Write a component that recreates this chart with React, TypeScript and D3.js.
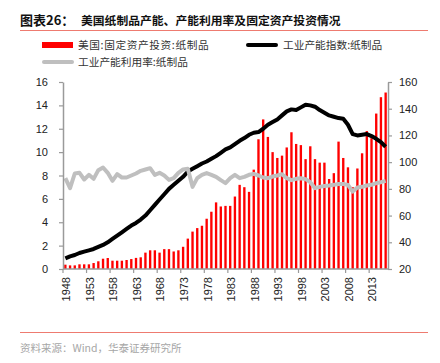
import * as d3 from 'd3'
import { useEffect, useRef } from 'react'

const years = d3.range(1948, 2017)

// 美国:固定资产投资:纸制品 (left axis)
const investment = [
    0.37, 0.31, 0.31, 0.4, 0.4, 0.4, 0.51, 0.66, 0.88, 0.94,
    0.71, 0.71, 0.71, 0.77, 0.85, 0.95, 1.0, 1.4, 1.6, 1.6,
    1.4, 1.7, 1.7, 1.5, 1.6, 1.9, 2.6, 3.2, 3.5, 3.7,
    4.3, 4.9, 5.7, 5.35, 5.4, 5.4, 6.2, 7.2, 7.0, 6.6,
    8.5, 11.1, 12.8, 11.3, 10.0, 9.5, 9.7, 10.4, 11.7, 10.7,
    10.6, 9.4, 10.5, 9.4, 9.1, 9.1, 7.7, 8.2, 10.9, 9.5,
    8.7, 7.0, 8.6, 9.9, 11.8, 11.2, 13.3, 14.7, 15.1
]

// 工业产能指数:纸制品 (right axis)
const capacityIndex = [
    28, 29.5, 30.5, 32, 33, 34, 35, 36.5, 38, 40,
    42.5, 45, 47.5, 50, 52.5, 54.5, 57, 60, 64, 68,
    72, 76, 80, 83, 86, 89, 93, 95, 97, 99,
    100.5, 102.5, 104.5, 107, 109.5, 111, 113.5, 116, 118, 120.5,
    122, 122.5, 125, 128, 130, 132, 135, 138, 139.5, 139,
    141, 143, 142.5, 141.5, 139, 137, 135, 134, 133, 132.5,
    128, 121, 120, 120.5, 121, 119.5, 117.5, 115, 111.5
]

// 工业产能利用率:纸制品 (right axis)
const utilization = [
    88, 80.5, 91.5, 92, 87, 90.5, 87.5, 94, 96, 92,
    86, 91, 88.5, 88.5, 90, 91.5, 93.5, 94.5, 95.5, 90.5,
    92, 90, 86.7, 88, 92, 94.5, 95, 81.5, 88, 90.5,
    91.8, 90.5, 89, 86.5, 84.3, 88, 90.5, 88, 89, 90.5,
    91.2, 90, 88.5, 88, 89.2, 90, 91, 88, 86.5, 87.5,
    88, 87.3, 85, 80.5, 81.5, 82.2, 82.5, 83, 83.7, 83.7,
    83, 78, 81, 81.5, 82.5, 83, 84.3, 85, 86
]

const leftTicks = [0, 2, 4, 6, 8, 10, 12, 14, 16]
const rightTicks = [20, 40, 60, 80, 100, 120, 140, 160]
const yearTicks = [1948, 1953, 1958, 1963, 1968, 1973, 1978, 1983, 1988, 1993, 1998, 2003, 2008, 2013]

const cjk = '"Noto Sans CJK SC", "Noto Sans", sans-serif'
const latin = '"Liberation Sans", Arial, sans-serif'

export default function App() {
    const chart = useRef<SVGSVGElement>(null)

    useEffect(() => {
        const svg = d3.select(chart.current)
        svg.selectAll('*').remove()

        const plot = { left: 63, right: 388, top: 82, bottom: 269 }
        const axisColor = '#9a9a9a'

        const x = d3.scaleBand<number>()
            .domain(years)
            .range([plot.left, plot.right])
            .paddingInner(0.5)
            .paddingOuter(0.25)
        const edge = (yr: number) => (x(yr) as number) - x.step() * 0.25
        const mid = (yr: number) => (x(yr) as number) + x.bandwidth() / 2

        const yL = d3.scaleLinear().domain([0, 16]).range([plot.bottom, plot.top])
        const yR = d3.scaleLinear().domain([20, 160]).range([plot.bottom, plot.top])

        // title
        svg.append('text')
            .attr('x', 20).attr('y', 25)
            .attr('font-family', cjk).attr('font-weight', 'bold').attr('font-size', 13)
            .attr('fill', '#111')
            .text('图表26：')
        svg.append('text')
            .attr('x', 81).attr('y', 25)
            .attr('font-family', cjk).attr('font-weight', 'bold').attr('font-size', 11.8)
            .attr('fill', '#111')
            .text('美国纸制品产能、产能利用率及固定资产投资情况')
        svg.append('line')
            .attr('x1', 20).attr('x2', 428).attr('y1', 30.5).attr('y2', 30.5)
            .attr('stroke', '#ee7b70').attr('stroke-width', 1)

        // legend
        const lg = svg.append('g').attr('font-family', cjk).attr('font-size', 10.7).attr('fill', '#333')
        lg.append('rect').attr('x', 42).attr('y', 42).attr('width', 31).attr('height', 6).attr('fill', '#ff0000')
        lg.append('text').attr('x', 78).attr('y', 45).attr('dy', '0.35em').attr('letter-spacing', 0.6).text('美国:固定资产投资:纸制品')
        lg.append('line').attr('x1', 248).attr('x2', 276).attr('y1', 45).attr('y2', 45)
            .attr('stroke', '#000').attr('stroke-width', 4).attr('stroke-linecap', 'round')
        lg.append('text').attr('x', 283).attr('y', 45).attr('dy', '0.35em').text('工业产能指数:纸制品')
        lg.append('line').attr('x1', 44).attr('x2', 72).attr('y1', 62).attr('y2', 62)
            .attr('stroke', '#bfbfbf').attr('stroke-width', 4).attr('stroke-linecap', 'round')
        lg.append('text').attr('x', 78).attr('y', 62).attr('dy', '0.35em').text('工业产能利用率:纸制品')

        // bars
        svg.append('g')
            .attr('fill', '#ff0000')
            .selectAll('rect')
            .data(years)
            .join('rect')
                .attr('x', d => x(d) as number)
                .attr('y', (d, i) => yL(investment[i]))
                .attr('width', x.bandwidth())
                .attr('height', (d, i) => yL(0) - yL(investment[i]))

        const line = (vals: number[]) => d3.line<number>()
            .x(d => mid(d))
            .y((d, i) => yR(vals[i]))(years)

        svg.append('path')
            .attr('d', line(capacityIndex))
            .attr('fill', 'none').attr('stroke', '#000').attr('stroke-width', 4)
            .attr('stroke-linejoin', 'round').attr('stroke-linecap', 'butt')

        svg.append('path')
            .attr('d', line(utilization))
            .attr('fill', 'none').attr('stroke', '#bfbfbf').attr('stroke-width', 4)
            .attr('stroke-linejoin', 'round').attr('stroke-linecap', 'butt')

        // axes
        const styleAxis = (g: any) => {
            g.select('.domain').attr('stroke', axisColor).attr('stroke-width', 1.5)
            g.selectAll('.tick line').attr('stroke', axisColor).attr('stroke-width', 1.2)
            g.selectAll('.tick text').attr('fill', '#222').attr('font-family', latin).attr('font-size', 11)
        }

        svg.append('g')
            .attr('transform', `translate(${plot.left},0)`)
            .call(d3.axisLeft(yL).tickValues(leftTicks).tickSize(4).tickSizeOuter(0).tickPadding(11))
            .call(styleAxis)

        svg.append('g')
            .attr('transform', `translate(${plot.right},0)`)
            .call(d3.axisRight(yR).tickValues(rightTicks).tickSize(4).tickSizeOuter(0).tickPadding(7))
            .call(styleAxis)

        const xAxis = svg.append('g')
        xAxis.append('line')
            .attr('x1', plot.left).attr('x2', plot.right)
            .attr('y1', plot.bottom).attr('y2', plot.bottom)
            .attr('stroke', axisColor).attr('stroke-width', 1.5)
        xAxis.selectAll('line.tick')
            .data(yearTicks)
            .join('line')
                .attr('class', 'tick')
                .attr('x1', d => edge(d)).attr('x2', d => edge(d))
                .attr('y1', plot.bottom).attr('y2', plot.bottom + 4)
                .attr('stroke', axisColor).attr('stroke-width', 1.2)
        xAxis.selectAll('text')
            .data(yearTicks)
            .join('text')
                .attr('transform', d => `translate(${mid(d) + 1},${plot.bottom + 8}) rotate(-90)`)
                .attr('text-anchor', 'end')
                .attr('dy', '0.35em')
                .attr('font-family', latin).attr('font-size', 11).attr('fill', '#222')
                .text(d => d)

        // footer
        svg.append('line')
            .attr('x1', 20).attr('x2', 428).attr('y1', 332.5).attr('y2', 332.5)
            .attr('stroke', '#ee7b70').attr('stroke-width', 1)
        svg.append('text')
            .attr('x', 20).attr('y', 348).attr('dy', '0.35em')
            .attr('font-family', cjk).attr('font-size', 10.5).attr('fill', '#a6a6a6')
            .text('资料来源：Wind，华泰证券研究所')
    }, [])

    return (
        <svg ref={chart} width={440} height={363}
            style={{ position: 'absolute', left: 0, top: 0, background: '#fff' }} />
    )
}
